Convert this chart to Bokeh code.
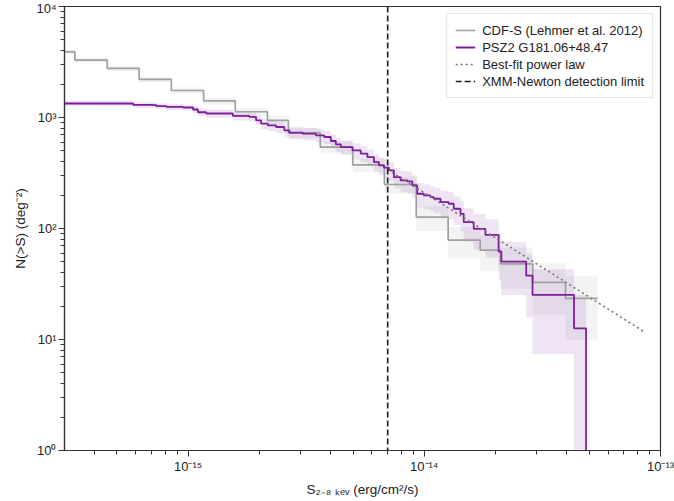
from bokeh.plotting import figure
from bokeh.models import FixedTicker, Legend, LegendItem
from bokeh.embed import file_html
from bokeh.resources import INLINE

# ---------------- data ----------------
# CDF-S (Lehmer et al. 2012): step starts, N(>S) levels and the error band
cdfs_s = [2.8e-16, 3.32e-16, 4.55e-16, 6.21e-16, 8.50e-16, 1.164e-15, 1.585e-15,
          2.17e-15, 2.66e-15, 3.63e-15, 4.98e-15, 6.78e-15, 9.25e-15, 1.262e-14,
          1.725e-14, 2.10e-14, 2.88e-14, 3.96e-14]
cdfs_end = 5.42e-14
cdfs_n = [3908, 3290, 2768, 2203, 1751, 1410, 1127, 944, 728, 542, 374, 249,
          126.5, 78.7, 63.8, 48.0, 32.7, 23.5]
cdfs_lo = [3734, 3130, 2622, 2072, 1634, 1305, 1034, 858, 653, 477, 320, 205,
           95, 54, 41.6, 28.7, 16.8, 10]
cdfs_hi = [4082, 3450, 2914, 2334, 1868, 1515, 1220, 1030, 803, 607, 428, 293,
           158, 103, 86, 67.3, 48.6, 37]

# PSZ2 G181.06+48.47
psz_s = [2.8e-16, 5.86e-16, 7.12e-16, 7.35e-16, 8.10e-16, 9.53e-16, 1.050e-15,
         1.102e-15, 1.195e-15, 1.548e-15, 1.819e-15, 1.941e-15, 2.038e-15,
         2.176e-15, 2.358e-15, 2.556e-15, 2.684e-15, 3.056e-15, 3.478e-15,
         3.771e-15, 4.024e-15, 4.224e-15, 4.434e-15, 4.967e-15, 5.383e-15,
         5.745e-15, 6.126e-15, 6.43e-15, 6.75e-15, 7.09e-15, 7.44e-15, 7.94e-15,
         8.48e-15, 8.90e-15, 9.34e-15, 9.96e-15, 1.063e-14, 1.098e-14, 1.172e-14,
         1.270e-14, 1.333e-14, 1.423e-14, 1.469e-14, 1.620e-14, 1.814e-14,
         2.064e-14, 2.120e-14, 2.701e-14, 2.872e-14, 4.305e-14]
psz_end = 4.84e-14
psz_n = [1337, 1298, 1290, 1264, 1245, 1230, 1180, 1115, 1086, 1033, 1012, 944,
         882, 851, 821, 767, 731, 716, 691, 667, 614, 573, 542, 506, 473, 440,
         397, 371, 353, 334, 290, 271, 266, 244.5, 205.7, 198.6, 191.7, 185.4,
         172.8, 167.1, 150.6, 135.7, 114.0, 99.4, 87.7, 62.0, 50.4, 37.6, 25.2,
         12.6]
psz_lo = [1260, 1225, 1215, 1190, 1170, 1155, 1100, 1030, 995, 940, 915, 850,
          785, 755, 725, 672, 637, 623, 600, 577, 528, 489, 460, 426, 396, 366,
          326, 303, 286, 269, 230, 213, 208, 189, 155, 149, 143, 137, 126, 121,
          107, 94.4, 76.1, 64, 54.5, 34.1, 25.2, 15.9, 7.4, 0.001]
psz_hi = [1415, 1375, 1366, 1340, 1322, 1306, 1262, 1202, 1178, 1127, 1110,
          1040, 979, 948, 918, 862, 825, 809, 782, 757, 700, 657, 624, 586, 550,
          514, 468, 439, 420, 399, 350, 329, 324, 300, 257, 249, 241, 234, 219,
          213, 194, 177, 151.9, 134.8, 120.9, 89.9, 75.6, 59.3, 43, 25.2]

# best-fit power law (end points) and XMM-Newton detection limit
fit_s = [7e-15, 8.6e-14]
fit_n = [339, 11.6]
xmm_limit = 7e-15

x_major = [1e-15, 1e-14, 1e-13]
x_labels = ["10⁻¹⁵", "10⁻¹⁴", "10⁻¹³"]
y_major = [1.0, 10.0, 100.0, 1000.0, 10000.0]
y_labels = ["10⁰", "10¹", "10²", "10³", "10⁴"]

# ---------------- styling ----------------
PURPLE = "#7e1e9c"
GREY = "#a0a0a0"
FONT = "Liberation Sans"
INK = "#222222"

p = figure(width=674, height=501, x_axis_type="log", y_axis_type="log",
           x_range=(3e-16, 1e-13), y_range=(1, 1e4),
           output_backend="svg", toolbar_location=None,
           min_border_left=64, min_border_right=14, min_border_top=6,
           min_border_bottom=51)

p.xgrid.visible = False
p.ygrid.visible = False
p.outline_line_color = "#333333"
p.outline_line_width = 1.2
p.background_fill_color = "white"
p.border_fill_color = "white"

# bands
cdfs_right = cdfs_s[1:] + [cdfs_end]
p.quad(left=cdfs_s, right=cdfs_right, bottom=cdfs_lo, top=cdfs_hi,
       fill_color=GREY, fill_alpha=0.13, line_color=None)
psz_right = psz_s[1:] + [psz_end]
p.quad(left=psz_s, right=psz_right, bottom=psz_lo, top=psz_hi,
       fill_color=PURPLE, fill_alpha=0.12, line_color=None)

# lines
r_cdfs = p.step(x=cdfs_s + [cdfs_end], y=cdfs_n + [cdfs_n[-1]], mode="after",
                line_color=GREY, line_width=1.7)
r_psz = p.step(x=psz_s + [psz_end], y=psz_n + [0.001], mode="after",
               line_color=PURPLE, line_width=1.8)
r_fit = p.line(fit_s, fit_n, line_color="#777777", line_width=1.6,
               line_dash="2 3")
r_xmm = p.line([xmm_limit, xmm_limit], [0.1, 1e5], line_color="#1a1a1a",
               line_width=1.6, line_dash="6 3")

# axes
p.xaxis.ticker = FixedTicker(
    ticks=x_major,
    minor_ticks=[k * 1e-16 for k in range(4, 10)] + [k * 1e-15 for k in range(2, 10)]
    + [k * 1e-14 for k in range(2, 10)])
p.yaxis.ticker = FixedTicker(
    ticks=y_major,
    minor_ticks=[k * 10.0 ** d for d in range(0, 4) for k in range(2, 10)])
p.xaxis.major_label_overrides = dict(zip(x_major, x_labels))
p.yaxis.major_label_overrides = dict(zip(y_major, y_labels))

for ax in (p.xaxis[0], p.yaxis[0]):
    ax.axis_line_color = "#333333"
    ax.axis_line_width = 1.2
    ax.major_tick_line_color = "#333333"
    ax.minor_tick_line_color = "#333333"
    ax.major_tick_out = 6
    ax.major_tick_in = 0
    ax.minor_tick_out = 4
    ax.minor_tick_in = 0
    ax.major_label_text_font = FONT
    ax.major_label_text_font_size = "13px"
    ax.major_label_text_color = INK
    ax.major_label_standoff = 2
    ax.axis_label_text_font = FONT
    ax.axis_label_text_font_size = "13.5px"
    ax.axis_label_text_font_style = "normal"
    ax.axis_label_text_color = INK
    ax.axis_label_standoff = 5

p.yaxis.axis_label = "N(>S) (deg⁻²)"
p.xaxis.axis_label = "S₂₋₈ ₖₑᵥ (erg/cm²/s)"

legend = Legend(items=[
    LegendItem(label="CDF-S (Lehmer et al. 2012)", renderers=[r_cdfs]),
    LegendItem(label="PSZ2 G181.06+48.47", renderers=[r_psz]),
    LegendItem(label="Best-fit power law", renderers=[r_fit]),
    LegendItem(label="XMM-Newton detection limit", renderers=[r_xmm]),
], location="top_right")
legend.label_text_font = FONT
legend.label_text_font_size = "13px"
legend.label_text_color = INK
legend.glyph_width = 20
legend.glyph_height = 16
legend.label_height = 16
legend.spacing = 1
legend.padding = 8
legend.margin = 7
legend.label_standoff = 7
legend.border_line_color = "#cccccc"
legend.border_line_width = 1
legend.background_fill_alpha = 0.85
p.add_layout(legend)

open("out.html", "w").write(file_html(p, INLINE, title="N(>S)"))
